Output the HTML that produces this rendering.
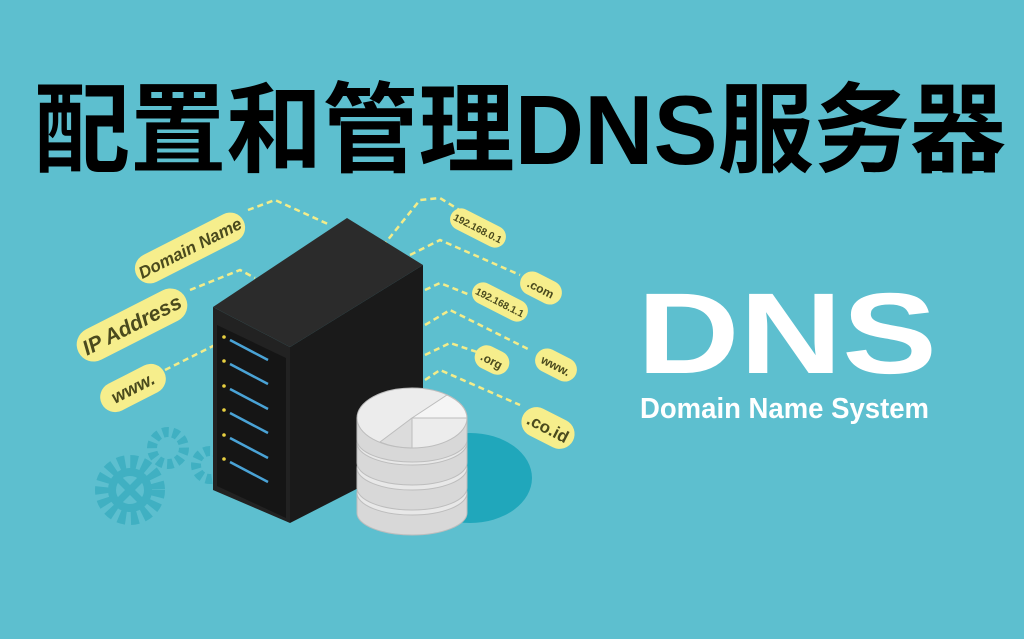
<!DOCTYPE html>
<html><head><meta charset="utf-8"><style>
html,body{margin:0;padding:0;background:#5dbfcf;}
svg{display:block}
</style></head><body>
<svg width="1024" height="639" viewBox="0 0 1024 639" xmlns="http://www.w3.org/2000/svg">
<rect width="1024" height="639" fill="#5dbfcf"/>
<text x="34" y="164" textLength="972" lengthAdjust="spacingAndGlyphs" font-family="Liberation Sans, Noto Sans CJK SC, sans-serif" font-weight="bold" font-size="98" fill="#000">配置和管理DNS服务器</text>
<g stroke="#f3ec8a" stroke-width="2.5" fill="none" stroke-dasharray="6,4">
<path d="M248 210 L275 200 L330 225"/>
<path d="M190 290 L240 270 L255 278"/>
<path d="M165 370 L215 345"/>
<path d="M370 262 L420 200 L440 198 L500 235"/>
<path d="M410 255 L440 240 L520 275"/>
<path d="M425 290 L440 283 L470 295"/>
<path d="M425 325 L450 310 L530 350"/>
<path d="M425 355 L450 343 L480 353"/>
<path d="M425 380 L440 370 L520 405"/>
</g>
<g font-family="Liberation Sans, sans-serif" font-weight="bold" font-style="italic" fill="#4a4a1e">
<g transform="translate(190,248) rotate(-27)"><rect x="-60" y="-15" width="120" height="30" rx="15" fill="#f6ee8c"/><text x="0" y="6" text-anchor="middle" font-size="17">Domain Name</text></g>
<g transform="translate(132,325) rotate(-27)"><rect x="-60" y="-17" width="120" height="34" rx="17" fill="#f6ee8c"/><text x="0" y="7" text-anchor="middle" font-size="21">IP Address</text></g>
<g transform="translate(133,388) rotate(-27)"><rect x="-35" y="-15" width="70" height="30" rx="15" fill="#f6ee8c"/><text x="0" y="6" text-anchor="middle" font-size="18">www.</text></g>
</g>
<g font-family="Liberation Sans, sans-serif" font-weight="bold" fill="#4a4a1e">
<g transform="translate(478,228) rotate(27)"><rect x="-30" y="-11" width="60" height="22" rx="11" fill="#f6ee8c"/><text x="0" y="4" text-anchor="middle" font-size="10">192.168.0.1</text></g>
<g transform="translate(541,288) rotate(27)"><rect x="-22" y="-12" width="44" height="24" rx="12" fill="#f6ee8c"/><text x="0" y="5" text-anchor="middle" font-size="12">.com</text></g>
<g transform="translate(500,302) rotate(27)"><rect x="-30" y="-11" width="60" height="22" rx="11" fill="#f6ee8c"/><text x="0" y="4" text-anchor="middle" font-size="10">192.168.1.1</text></g>
<g transform="translate(556,365) rotate(27)"><rect x="-22" y="-12" width="44" height="24" rx="12" fill="#f6ee8c"/><text x="0" y="5" text-anchor="middle" font-size="12">www.</text></g>
<g transform="translate(492,360) rotate(27)"><rect x="-18" y="-12" width="36" height="24" rx="12" fill="#f6ee8c"/><text x="0" y="5" text-anchor="middle" font-size="12">.org</text></g>
<g transform="translate(548,428) rotate(27)"><rect x="-28" y="-15" width="56" height="30" rx="15" fill="#f6ee8c"/><text x="0" y="6" text-anchor="middle" font-size="17">.co.id</text></g>
</g>
<g fill="none" stroke="#40b0c2">
<circle cx="130" cy="490" r="28" stroke-width="14" stroke-dasharray="7,5"/>
<circle cx="130" cy="490" r="18" stroke-width="8"/>
<path d="M118 478 L142 502 M142 478 L118 502" stroke-width="7"/>
<circle cx="168" cy="448" r="16" stroke-width="10" stroke-dasharray="6,4"/>
<circle cx="210" cy="465" r="14" stroke-width="10" stroke-dasharray="6,4"/>
</g>
<ellipse cx="470" cy="478" rx="62" ry="45" fill="#20a7bb"/>
<polygon points="213,307 347,218 423,265 290,347" fill="#2b2b2b"/>
<polygon points="290,347 423,265 423,455 290,523" fill="#1a1a1a"/>
<polygon points="213,307 290,347 290,523 213,490" fill="#222"/>
<g>
<polygon points="217,325 286,358 286,518 217,486" fill="#151515"/>
<g stroke="#4aa3d6" stroke-width="2.5">
<line x1="230" y1="340" x2="268" y2="360"/><line x1="230" y1="364" x2="268" y2="384"/>
<line x1="230" y1="389" x2="268" y2="409"/><line x1="230" y1="413" x2="268" y2="433"/>
<line x1="230" y1="438" x2="268" y2="458"/><line x1="230" y1="462" x2="268" y2="482"/>
</g>
<g fill="#e8d040"><circle cx="224" cy="337" r="1.8"/><circle cx="224" cy="361" r="1.8"/><circle cx="224" cy="386" r="1.8"/><circle cx="224" cy="410" r="1.8"/><circle cx="224" cy="435" r="1.8"/><circle cx="224" cy="459" r="1.8"/></g>
</g>
<g stroke="#bdbdbd" stroke-width="1">
<path d="M357 493 v20 a55 22 0 0 0 110 0 v-20" fill="#d8d8d8"/>
<ellipse cx="412" cy="493" rx="55" ry="22" fill="#e8e8e8"/>
<path d="M357 468 v20 a55 22 0 0 0 110 0 v-20" fill="#d8d8d8"/>
<ellipse cx="412" cy="468" rx="55" ry="22" fill="#e8e8e8"/>
<path d="M357 443 v20 a55 22 0 0 0 110 0 v-20" fill="#d8d8d8"/>
<ellipse cx="412" cy="443" rx="55" ry="22" fill="#e8e8e8"/>
<path d="M357 418 v22 a55 22 0 0 0 110 0 v-22" fill="#d8d8d8"/>
<ellipse cx="412" cy="418" rx="55" ry="30" fill="#ececec"/>
<path d="M412 418 L447 395 A55 30 0 0 1 467 418 Z" fill="#f5f5f5"/>
<path d="M412 418 L412 448 A55 30 0 0 1 380 442 Z" fill="#dcdcdc"/>
</g>
<text x="637" y="373" textLength="300" lengthAdjust="spacingAndGlyphs" font-family="Liberation Sans, sans-serif" font-weight="bold" font-size="115" fill="#fff">DNS</text>
<text x="640" y="418" textLength="289" lengthAdjust="spacingAndGlyphs" font-family="Liberation Sans, sans-serif" font-weight="bold" font-size="29" fill="#fff">Domain Name System</text>
</svg>
</body></html>
